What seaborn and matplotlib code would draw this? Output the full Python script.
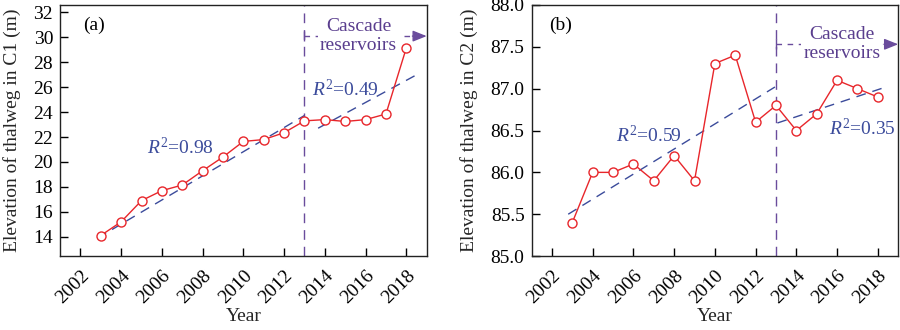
import matplotlib
matplotlib.use("Agg")
import matplotlib.pyplot as plt
import seaborn as sns
import pandas as pd

# Observed thalweg elevations (m)
years = [2003, 2004, 2005, 2006, 2007, 2008, 2009, 2010,
         2011, 2012, 2013, 2014, 2015, 2016, 2017, 2018]
elev_c1 = [14.1, 15.2, 16.9, 17.7, 18.15, 19.3, 20.4, 21.65,
           21.8, 22.35, 23.3, 23.4, 23.25, 23.4, 23.85, 29.15]
elev_c2 = [85.4, 86.0, 86.0, 86.1, 85.9, 86.2, 85.9, 87.3,
           87.4, 86.6, 86.8, 86.5, 86.7, 87.1, 87.0, 86.9]

# Linear trends before / after the cascade reservoirs (end points)
trend_c1_pre_x = [2002.85, 2013.0]
trend_c1_pre_y = [13.9, 23.73]
trend_c1_post_x = [2013.67, 2018.53]
trend_c1_post_y = [22.71, 27.02]
trend_c2_pre_x = [2002.8, 2012.95]
trend_c2_pre_y = [85.5, 87.02]
trend_c2_post_x = [2013.07, 2018.4]
trend_c2_post_y = [86.59, 87.02]

r2_c1 = ["0.98", "0.49"]
r2_c2 = ["0.59", "0.35"]

reservoir_year = 2013
xticks = [2002, 2004, 2006, 2008, 2010, 2012, 2014, 2016, 2018]

RED = "#e8262b"
BLUE = "#3b4b9b"
PURPLE = "#6a4c9c"
PURPLE_TXT = "#5a3e8e"
FS = 14

sns.set_theme(style="ticks")
plt.rcParams["font.family"] = ["Liberation Serif", "DejaVu Serif"]
plt.rcParams["mathtext.fontset"] = "custom"
plt.rcParams["mathtext.it"] = "Liberation Serif:italic"
plt.rcParams["mathtext.rm"] = "Liberation Serif"

fig, axes = plt.subplots(1, 2, figsize=(9, 3.3), dpi=100)
fig.subplots_adjust(left=0.0667, right=0.998, top=0.985, bottom=0.224, wspace=0.286)

panels = [
    dict(ax=axes[0], y=elev_c1, label="(a)", ylabel="Elevation of thalweg in C1 (m)",
         ylim=(12.45, 32.6), yticks=list(range(14, 33, 2)), yfmt="{:.0f}",
         trends=[(trend_c1_pre_x, trend_c1_pre_y), (trend_c1_post_x, trend_c1_post_y)],
         r2=r2_c1, r2pos=[(2005.25, 21.15), (2013.36, 25.8)],
         arrow_y=30.1, text_x=2015.65, label_x=0.063),
    dict(ax=axes[1], y=elev_c2, label="(b)", ylabel="Elevation of thalweg in C2 (m)",
         ylim=(85.0, 88.0), yticks=[85.0, 85.5, 86.0, 86.5, 87.0, 87.5, 88.0], yfmt="{:.1f}",
         trends=[(trend_c2_pre_x, trend_c2_pre_y), (trend_c2_post_x, trend_c2_post_y)],
         r2=r2_c2, r2pos=[(2005.15, 86.44), (2015.6, 86.53)],
         arrow_y=87.53, text_x=2016.24, label_x=0.049),
]

for p in panels:
    ax = p["ax"]
    df = pd.DataFrame({"Year": years, "Elevation": p["y"]})

    # trend lines
    for tx, ty in p["trends"]:
        sns.lineplot(x=tx, y=ty, ax=ax, color=BLUE, lw=1.0, dashes=False,
                     linestyle=(0, (7, 5)), zorder=2)

    # observations
    sns.lineplot(data=df, x="Year", y="Elevation", ax=ax, color=RED, lw=1.0,
                 marker="o", markersize=6.5, markerfacecolor="white",
                 markeredgecolor=RED, markeredgewidth=1.0, zorder=3)

    # reservoir start line
    ax.axvline(reservoir_year, color=PURPLE, lw=1.0, linestyle=(0, (7, 5)), zorder=1)

    # "Cascade reservoirs" arrow
    ay = p["arrow_y"]
    ax.plot([reservoir_year, 2018.5], [ay, ay], color=PURPLE, lw=1.0,
            linestyle=(0, (4, 4)), clip_on=False, zorder=1)
    ax.plot([reservoir_year], [ay], marker="|", color=PURPLE, markersize=7,
            markeredgewidth=1.0, zorder=1)
    ax.annotate("", xy=(2019.0, ay), xytext=(2018.3, ay),
                arrowprops=dict(arrowstyle="-|>,head_length=0.7,head_width=0.28",
                                color=PURPLE, lw=1.0, shrinkA=0, shrinkB=0),
                annotation_clip=False)
    ax.text(p["text_x"], ay, "Cascade\nreservoirs", ha="center", va="center",
            color=PURPLE_TXT, fontsize=FS, linespacing=1.15,
            bbox=dict(boxstyle="square,pad=0.1", fc="white", ec="none"), zorder=4)

    # R^2 labels
    for r, (rx, ry) in zip(p["r2"], p["r2pos"]):
        ax.text(rx, ry, r"$R^2$=" + r, ha="left", va="center", color=BLUE, fontsize=FS)

    ax.text(p["label_x"], 0.92, p["label"], transform=ax.transAxes,
            ha="left", va="center", fontsize=FS, color="black")

    ax.set_xlim(2001, 2019)
    ax.set_ylim(*p["ylim"])
    ax.set_xticks(xticks)
    ax.set_xticklabels([str(t) for t in xticks], rotation=45, ha="right",
                       rotation_mode="anchor")
    ax.set_yticks(p["yticks"])
    ax.set_yticklabels([p["yfmt"].format(v) for v in p["yticks"]])
    ax.tick_params(direction="in", length=6, width=1.0, labelsize=FS,
                   colors="black", top=False, right=False)
    ax.tick_params(axis="x", pad=8)
    ax.tick_params(axis="y", pad=5)
    ax.set_xlabel("Year", fontsize=FS, labelpad=1)
    ax.set_ylabel(p["ylabel"], fontsize=FS, labelpad=9)
    for s in ax.spines.values():
        s.set_visible(True)
        s.set_color("#222222")
        s.set_linewidth(1.0)
    if ax.get_legend() is not None:
        ax.get_legend().remove()

fig.savefig("out.png", dpi=100, facecolor="white")
